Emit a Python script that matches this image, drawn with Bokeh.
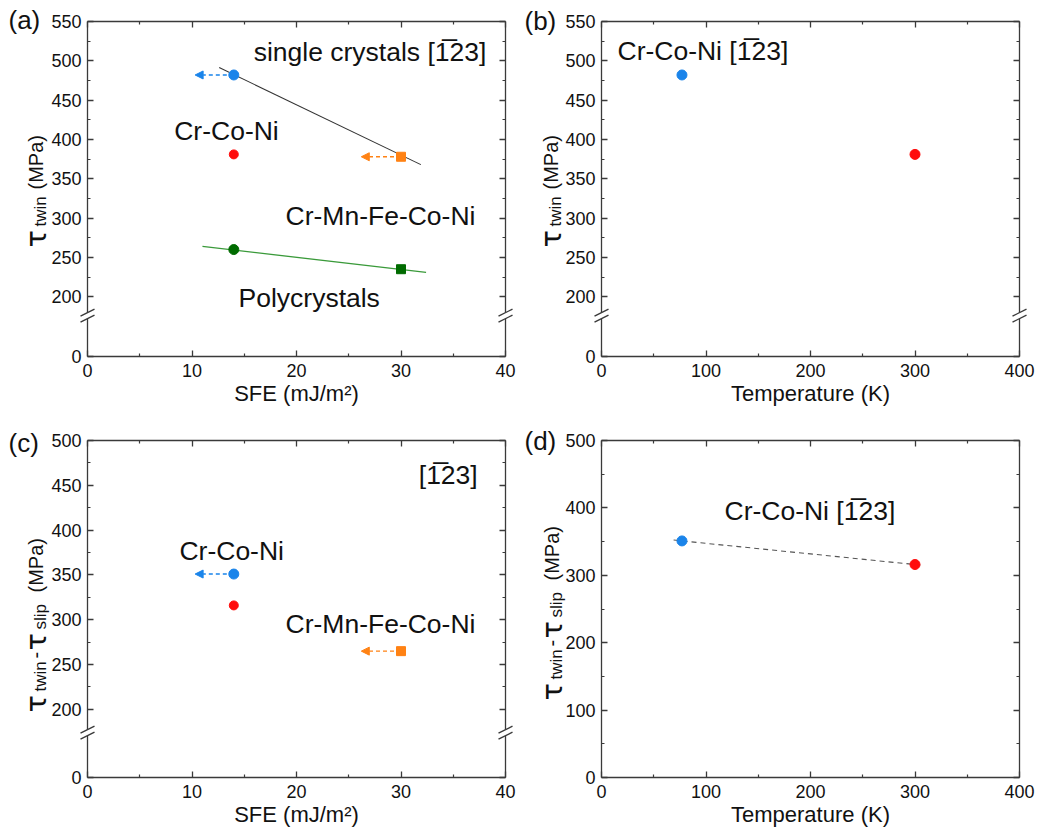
import math
from bokeh.plotting import figure
from bokeh.models import (Range1d, FixedTicker, LinearAxis, Label, Arrow, NormalHead)
from bokeh.layouts import column, row
from bokeh.embed import file_html
from bokeh.resources import INLINE

# ---------------- data ----------------
# Panel (a): tau_twin vs SFE
a_sfe_77k = [14]            # Cr-Co-Ni single crystal, 77 K (blue)
a_tau_77k = [482]
a_sfe_cantor = [30]         # Cr-Mn-Fe-Co-Ni single crystal (orange)
a_tau_cantor = [378]
a_sfe_rt = [14]             # Cr-Co-Ni single crystal, RT (red)
a_tau_rt = [381]
a_sfe_poly_ccn = [14]       # polycrystal Cr-Co-Ni
a_tau_poly_ccn = [260]
a_sfe_poly_cantor = [30]    # polycrystal Cr-Mn-Fe-Co-Ni
a_tau_poly_cantor = [235]
a_fit_single_x = [12.6, 31.9]
a_fit_single_y = [491.5, 368]
a_fit_poly_x = [11.0, 32.4]
a_fit_poly_y = [264, 231]
a_arrow_tip_x = [10.3, 26.2]   # SFE upper-bound arrows (blue, orange)

# Panel (b): tau_twin vs temperature
b_temp = [77, 300]
b_tau = [482, 381]

# Panel (c): tau_twin - tau_slip vs SFE
c_sfe_77k = [14]
c_diff_77k = [351]
c_sfe_rt = [14]
c_diff_rt = [316]
c_sfe_cantor = [30]
c_diff_cantor = [265]
c_arrow_tip_x = [10.3, 26.2]

# Panel (d): tau_twin - tau_slip vs temperature
d_temp = [77, 300]
d_diff = [351, 316]
d_fit_x = [69, 307]
d_fit_y = [352.3, 314.9]

# axis ticks
sfe_ticks = [0, 10, 20, 30, 40]
sfe_minor = [5, 15, 25, 35]
temp_ticks = [0, 100, 200, 300, 400]
temp_minor = [50, 150, 250, 350]
BREAK_ZERO = 124          # virtual position of "0" below the axis break
ab_yticks = [BREAK_ZERO, 200, 250, 300, 350, 400, 450, 500, 550]
ab_yminor = [225, 275, 325, 375, 425, 475, 525]
c_yticks = [BREAK_ZERO, 200, 250, 300, 350, 400, 450, 500]
c_yminor = [225, 275, 325, 375, 425, 475]
d_yticks = [0, 100, 200, 300, 400, 500]
d_yminor = [50, 150, 250, 350, 450]
AB_BREAK = 176
C_BREAK = 174

# ---------------- style ----------------
FONT = "Liberation Sans"
AX = "#3a3a3a"
TXT = "#111111"
BLUE = "#1a84ea"
RED = "#ff0d0d"
ORANGE = "#ff8214"
DGREEN = "#006b00"
LGREEN = "#3a9a3a"
TICK_FS = "18px"
AXLAB_FS = "22px"
ANN_FS = "26.5px"
W, H = 1039, 833


def style_axis(ax, ticks, minor, labels=True, overrides=None):
    ax.ticker = FixedTicker(ticks=ticks, minor_ticks=minor)
    ax.axis_line_color = AX
    ax.axis_line_width = 1.3
    ax.major_tick_line_color = AX
    ax.major_tick_line_width = 1.3
    ax.major_tick_in = 6
    ax.major_tick_out = 0
    ax.minor_tick_line_color = AX
    ax.minor_tick_line_width = 1.2
    ax.minor_tick_in = 3
    ax.minor_tick_out = 0
    ax.major_label_text_font = FONT
    ax.major_label_text_font_size = TICK_FS
    ax.major_label_text_color = TXT
    if labels:
        if overrides:
            ax.major_label_overrides = overrides
    else:
        ax.major_label_overrides = {t: "" for t in ticks}
        ax.major_label_standoff = 0


def make_fig(w, h, bl, br, bt, bb, xr, yr, xt, xm, yt, ym, xlabel, yover=None):
    p = figure(width=w, height=h, x_range=Range1d(*xr), y_range=Range1d(*yr),
               output_backend="svg", toolbar_location=None,
               min_border_left=bl, min_border_right=br,
               min_border_top=bt, min_border_bottom=bb)
    p.xgrid.visible = False
    p.ygrid.visible = False
    p.outline_line_color = None
    p.background_fill_color = "white"
    p.border_fill_color = "white"
    style_axis(p.xaxis[0], xt, xm)
    p.xaxis[0].major_label_standoff = 7
    p.xaxis[0].axis_label = xlabel
    p.xaxis[0].axis_label_text_font = FONT
    p.xaxis[0].axis_label_text_font_size = AXLAB_FS
    p.xaxis[0].axis_label_text_font_style = "normal"
    p.xaxis[0].axis_label_text_color = TXT
    p.xaxis[0].axis_label_standoff = 1
    style_axis(p.yaxis[0], yt, ym, overrides=yover)
    p.yaxis[0].major_label_standoff = 6
    top = LinearAxis()
    style_axis(top, xt, xm, labels=False)
    p.add_layout(top, "above")
    right = LinearAxis()
    style_axis(right, yt, ym, labels=False)
    p.add_layout(right, "right")
    return p


def add_text(p, x, y, txt, size=ANN_FS):
    p.add_layout(Label(x=x, y=y, text=txt, text_font=FONT, text_font_size=size,
                       text_color=TXT, text_align="left", text_baseline="middle"))


def add_arrow(p, x0, x1, y, color):
    p.add_layout(Arrow(x_start=x0, y_start=y, x_end=x1, y_end=y, line_color=color,
                       line_width=1.4, line_dash="4 3", level="underlay",
                       end=NormalHead(size=8, fill_color=color, line_color=color)))


SFE_LABEL = "SFE (mJ/m\u00b2)"
T_LABEL = "Temperature (K)"
BAR = "[1\u030523]"

# frame geometry (canvas px) of the four panels: left, top, width, height
FA = (87, 21, 418, 335)
FB = (601, 21, 418, 335)
FC = (87, 440, 418, 337)
FD = (601, 440, 418, 337)

# ---------------- panel (a) ----------------
pa = make_fig(520, 420, 87, 15, 21, 64, (0, 40), (BREAK_ZERO, 550), sfe_ticks, sfe_minor,
              ab_yticks, ab_yminor, SFE_LABEL, {BREAK_ZERO: "0"})
pa.line(a_fit_single_x, a_fit_single_y, line_color="#333333", line_width=1.1)
pa.line(a_fit_poly_x, a_fit_poly_y, line_color=LGREEN, line_width=1.3)
add_arrow(pa, a_sfe_77k[0], a_arrow_tip_x[0], a_tau_77k[0], BLUE)
add_arrow(pa, a_sfe_cantor[0], a_arrow_tip_x[1], a_tau_cantor[0], ORANGE)
pa.scatter(a_sfe_77k, a_tau_77k, marker="circle", size=10, fill_color=BLUE, line_color=BLUE)
pa.scatter(a_sfe_cantor, a_tau_cantor, marker="square", size=9, fill_color=ORANGE, line_color=ORANGE)
pa.scatter(a_sfe_rt, a_tau_rt, marker="circle", size=9, fill_color=RED, line_color=RED)
pa.scatter(a_sfe_poly_ccn, a_tau_poly_ccn, marker="circle", size=10, fill_color=DGREEN, line_color=DGREEN)
pa.scatter(a_sfe_poly_cantor, a_tau_poly_cantor, marker="square", size=9, fill_color=DGREEN, line_color=DGREEN)
add_text(pa, 15.9, 510.6, "single crystals " + BAR)
add_text(pa, 8.3, 411, "Cr-Co-Ni")
add_text(pa, 18.95, 303, "Cr-Mn-Fe-Co-Ni")
add_text(pa, 14.45, 198, "Polycrystals")

# ---------------- panel (b) ----------------
pb = make_fig(519, 420, 81, 20, 21, 64, (0, 400), (BREAK_ZERO, 550), temp_ticks, temp_minor,
              ab_yticks, ab_yminor, T_LABEL, {BREAK_ZERO: "0"})
pb.scatter(b_temp[:1], b_tau[:1], marker="circle", size=10, fill_color=BLUE, line_color=BLUE)
pb.scatter(b_temp[1:], b_tau[1:], marker="circle", size=10, fill_color=RED, line_color=RED)
add_text(pb, 15.3, 513, "Cr-Co-Ni " + BAR)

# ---------------- panel (c) ----------------
pc = make_fig(520, 413, 87, 15, 20, 56, (0, 40), (BREAK_ZERO, 500), sfe_ticks, sfe_minor,
              c_yticks, c_yminor, SFE_LABEL, {BREAK_ZERO: "0"})
add_arrow(pc, c_sfe_77k[0], c_arrow_tip_x[0], c_diff_77k[0], BLUE)
add_arrow(pc, c_sfe_cantor[0], c_arrow_tip_x[1], c_diff_cantor[0], ORANGE)
pc.scatter(c_sfe_77k, c_diff_77k, marker="circle", size=10, fill_color=BLUE, line_color=BLUE)
pc.scatter(c_sfe_rt, c_diff_rt, marker="circle", size=9, fill_color=RED, line_color=RED)
pc.scatter(c_sfe_cantor, c_diff_cantor, marker="square", size=9, fill_color=ORANGE, line_color=ORANGE)
add_text(pc, 31.7, 461, BAR)
add_text(pc, 8.8, 377, "Cr-Co-Ni")
add_text(pc, 18.95, 295, "Cr-Mn-Fe-Co-Ni")

# ---------------- panel (d) ----------------
pd_ = make_fig(519, 413, 81, 20, 20, 56, (0, 400), (0, 500), temp_ticks, temp_minor,
               d_yticks, d_yminor, T_LABEL)
pd_.line(d_fit_x, d_fit_y, line_color="#555555", line_width=1.1, line_dash="5 4")
pd_.scatter(d_temp[:1], d_diff[:1], marker="circle", size=10, fill_color=BLUE, line_color=BLUE)
pd_.scatter(d_temp[1:], d_diff[1:], marker="circle", size=10, fill_color=RED, line_color=RED)
add_text(pd_, 117.7, 396, "Cr-Co-Ni " + BAR)

# ---------------- transparent overlay (canvas pixel coordinates) ----------------
ov = figure(width=W, height=H, x_range=Range1d(0, W), y_range=Range1d(H, 0),
            output_backend="svg", toolbar_location=None,
            x_axis_location=None, y_axis_location=None,
            min_border=0, min_border_left=0, min_border_right=0,
            min_border_top=0, min_border_bottom=0,
            styles={"position": "absolute", "top": "0px", "left": "0px",
                    "pointer-events": "none", "z-index": "10"})
ov.xgrid.visible = False
ov.ygrid.visible = False
ov.outline_line_color = None
ov.background_fill_alpha = 0
ov.border_fill_alpha = 0


def break_marks(frame, p, ybreak):
    fl, ft, fw, fh = frame
    yr = p.y_range
    cy = ft + (yr.end - ybreak) / (yr.end - yr.start) * fh
    for cx in (fl, fl + fw):
        ov.patch([cx - 7, cx + 7, cx + 7, cx - 7], [cy + 6.5, cy - 0.5, cy - 6.5, cy + 0.5],
                 fill_color="white", line_color=None)
        for c in (3, -3):
            ov.segment(x0=[cx - 7], y0=[cy - c + 3.5], x1=[cx + 7], y1=[cy - c - 3.5],
                       line_color=AX, line_width=1.3)


break_marks(FA, pa, AB_BREAK)
break_marks(FB, pb, AB_BREAK)
break_marks(FC, pc, C_BREAK)

TAU_FONT = "DejaVu Sans"
TAU_FS = "29px"
SUB_FS = "17px"
MAIN_FS = "20px"


def ylabel(parts, xbase):
    # parts: (text, bottom y in canvas px, size, is_subscript)
    for txt, y0, size, sub in parts:
        fnt = TAU_FONT if txt == TAU else FONT
        ov.add_layout(Label(x=xbase + (5 if sub else 0), y=y0, text=txt, angle=math.pi / 2,
                            text_font=fnt, text_font_size=size, text_color=TXT,
                            text_align="left", text_baseline="alphabetic"))


TAU = "\u03c4"
for xb in (35, 550):
    ylabel([(TAU, 247, TAU_FS, False), ("twin", 226, SUB_FS, True),
            ("(MPa)", 189, MAIN_FS, False)], xb)
for xb, sh in ((35, 0), (551, -12)):
    ylabel([(TAU, 712 + sh, TAU_FS, False), ("twin", 691 + sh, SUB_FS, True),
            ("-", 658 + sh, MAIN_FS, False), (TAU, 650 + sh, TAU_FS, False),
            ("slip", 629 + sh, SUB_FS, True), ("(MPa)", 592 + sh, MAIN_FS, False)], xb)

for tx, ty, tag in [(8, 19, "(a)"), (524, 20, "(b)"), (8, 442, "(c)"), (524, 440, "(d)")]:
    ov.add_layout(Label(x=tx, y=ty, text=tag, text_font=FONT, text_font_size="26px",
                        text_color=TXT, text_align="left", text_baseline="middle"))

layout = column(row(pa, pb), row(pc, pd_))
open("out.html", "w").write(file_html([layout, ov], INLINE))
